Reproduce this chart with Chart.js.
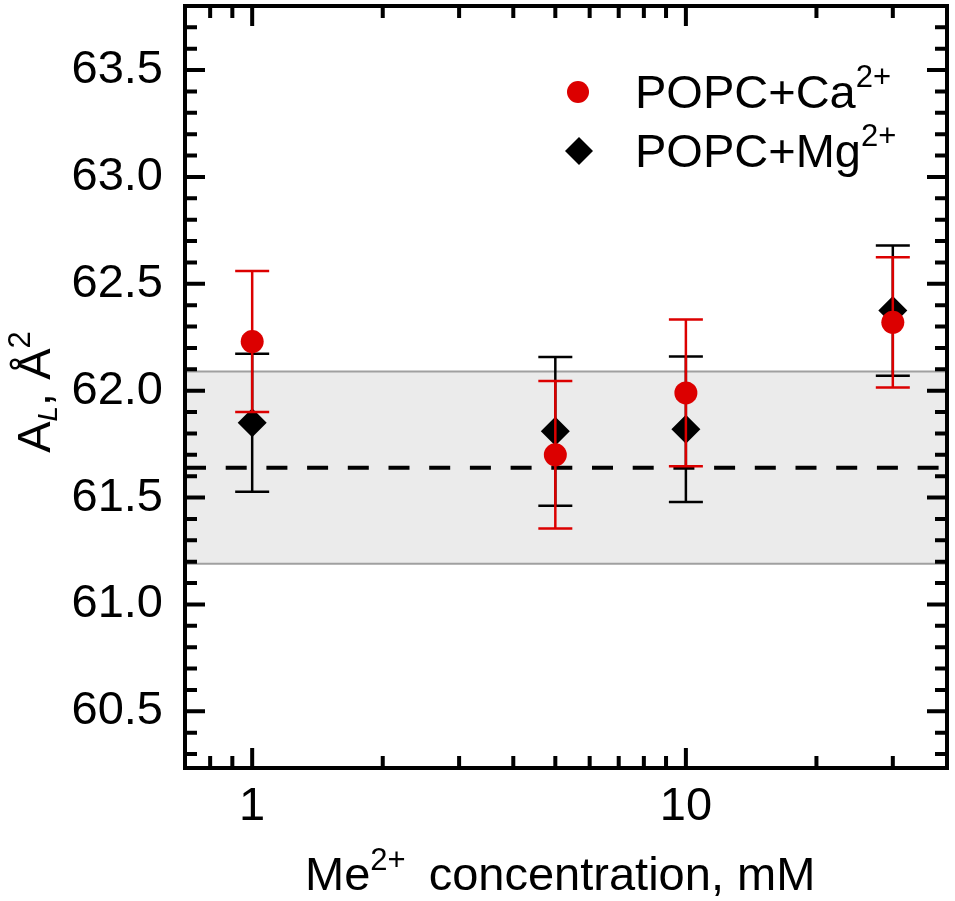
<html>
<head>
<style>
    body { margin: 0; background: #fff; }
    canvas { display: block; }
</style>
</head>
<body>
<canvas id="area_chart" width="955" height="901"></canvas>
<script src="https://cdn.jsdelivr.net/npm/chart.js"></script>

<script>
    // values
    const concentrations = [1, 5, 10, 30];
    const caArea = [62.23, 61.70, 61.99, 62.32];
    const caError = [0.33, 0.345, 0.343, 0.305];
    const mgArea = [61.85, 61.81, 61.82, 62.375];
    const mgError = [0.323, 0.348, 0.34, 0.305];
    const meanArea = 61.64;
    const bandLow = 61.19;
    const bandHigh = 62.09;

    const xRange = [0.7, 40];
    const yRange = [60.235, 63.8];
    const xMajorTicks = [1, 10];
    const xMinorTicks = [0.8, 0.9, 2, 3, 4, 5, 6, 7, 8, 9, 20, 30];
    const yMajorTicks = [60.5, 61.0, 61.5, 62.0, 62.5, 63.0, 63.5];
    const yMinorTicks = [60.3, 60.4, 60.6, 60.7, 60.8, 60.9, 61.1, 61.2, 61.3, 61.4,
        61.6, 61.7, 61.8, 61.9, 62.1, 62.2, 62.3, 62.4, 62.6, 62.7, 62.8, 62.9,
        63.1, 63.2, 63.3, 63.4, 63.6, 63.7];

    const FONT = '"Liberation Sans", Arial, sans-serif';
    const RED = "#dc0000";

    function drawRich(ctx, parts, x, y) {
        // parts: [text, size, dy, style, gapAfter]
        let cx = x;
        parts.forEach(([t, size, dy, style, gap]) => {
            ctx.font = (style || "") + " " + size + "px " + FONT;
            ctx.fillText(t, cx, y + dy);
            cx += ctx.measureText(t).width + (gap || 0);
        });
        return cx - x;
    }

    function richWidth(ctx, parts) {
        let w = 0;
        parts.forEach(([t, size, dy, style, gap]) => {
            ctx.font = (style || "") + " " + size + "px " + FONT;
            w += ctx.measureText(t).width + (gap || 0);
        });
        return w;
    }

    const errorBars = {
        id: "errorBars",
        beforeDatasetDraw(chart, args) {
            const ds = chart.data.datasets[args.index];
            if (!ds.errors) return;
            const ctx = chart.ctx;
            const xs = chart.scales.x, ys = chart.scales.y;
            ctx.save();
            ctx.strokeStyle = ds.errorColor;
            ctx.lineWidth = 2.5;
            ds.data.forEach((p, i) => {
                const px = xs.getPixelForValue(p.x);
                const top = ys.getPixelForValue(p.y + ds.errors[i]);
                const bot = ys.getPixelForValue(p.y - ds.errors[i]);
                ctx.beginPath();
                ctx.moveTo(px, top); ctx.lineTo(px, bot);
                ctx.moveTo(px - 17, top); ctx.lineTo(px + 17, top);
                ctx.moveTo(px - 17, bot); ctx.lineTo(px + 17, bot);
                ctx.stroke();
            });
            ctx.restore();
        }
    };

    const frameAndText = {
        id: "frameAndText",
        afterDatasetsDraw(chart) {
            const ctx = chart.ctx;
            const a = chart.chartArea;
            const xs = chart.scales.x, ys = chart.scales.y;
            ctx.save();
            ctx.strokeStyle = "#000";
            ctx.lineWidth = 4;
            ctx.beginPath();
            const tickX = (v, len) => {
                const px = xs.getPixelForValue(v);
                ctx.moveTo(px, a.bottom); ctx.lineTo(px, a.bottom - len);
                ctx.moveTo(px, a.top); ctx.lineTo(px, a.top + len);
            };
            const tickY = (v, len) => {
                const py = ys.getPixelForValue(v);
                ctx.moveTo(a.left, py); ctx.lineTo(a.left + len, py);
                ctx.moveTo(a.right, py); ctx.lineTo(a.right - len, py);
            };
            xMajorTicks.forEach(v => tickX(v, 20));
            xMinorTicks.forEach(v => tickX(v, 12));
            yMajorTicks.forEach(v => tickY(v, 20));
            yMinorTicks.forEach(v => tickY(v, 12));
            ctx.stroke();
            ctx.strokeRect(a.left, a.top, a.right - a.left, a.bottom - a.top);
            ctx.restore();
        },
        afterDraw(chart) {
            const ctx = chart.ctx;
            ctx.save();
            ctx.fillStyle = "#000";
            ctx.textBaseline = "alphabetic";
            ctx.textAlign = "left";

            // x axis title
            drawRich(ctx, [["Me", 47, 0], ["2+", 31, -20, "", 10], [" concentration, mM", 47, 0]], 305, 890);

            // y axis title
            const yTitle = [["A", 47, 0], ["L", 28, 7, "italic"], [", Å", 47, 0], ["2", 31, -20]];
            ctx.translate(50, 392);
            ctx.rotate(-Math.PI / 2);
            drawRich(ctx, yTitle, -richWidth(ctx, yTitle) / 2, 0);
            ctx.setTransform(1, 0, 0, 1, 0, 0);

            // legend
            ctx.fillStyle = RED;
            ctx.beginPath();
            ctx.arc(578, 92, 11, 0, Math.PI * 2);
            ctx.fill();
            ctx.fillStyle = "#000";
            ctx.beginPath();
            ctx.moveTo(579 - 14, 151); ctx.lineTo(579, 137);
            ctx.lineTo(579 + 14, 151); ctx.lineTo(579, 165);
            ctx.closePath();
            ctx.fill();
            drawRich(ctx, [["POPC+Ca", 47, 0], ["2+", 31, -21]], 635, 108);
            drawRich(ctx, [["POPC+Mg", 47, 0], ["2+", 31, -21]], 635, 167);
            ctx.restore();
        }
    };

    const toPoints = (xs, ys) => xs.map((x, i) => ({ x: x, y: ys[i] }));

    const ctx = document.getElementById("area_chart").getContext("2d");
    const chart = new Chart(ctx, {
        type: "scatter",
        data: {
            datasets: [{
                label: "POPC+Ca2+",
                data: toPoints(concentrations, caArea),
                errors: caError,
                errorColor: RED,
                pointStyle: "circle",
                pointRadius: 11.5,
                pointBackgroundColor: RED,
                pointBorderWidth: 0,
                clip: false
            }, {
                label: "POPC+Mg2+",
                data: toPoints(concentrations, mgArea),
                errors: mgError,
                errorColor: "#000",
                pointStyle: "rectRot",
                pointRadius: 14.5,
                pointBackgroundColor: "#000",
                pointBorderWidth: 0,
                clip: false
            }, {
                type: "line",
                label: "mean",
                data: toPoints(xRange, [meanArea, meanArea]),
                borderColor: "#000",
                borderWidth: 4,
                borderDash: [21, 19.7],
                pointRadius: 0,
                fill: false
            }, {
                type: "line",
                label: "band high",
                data: toPoints(xRange, [bandHigh, bandHigh]),
                borderColor: "#a0a0a0",
                borderWidth: 2,
                pointRadius: 0,
                fill: false
            }, {
                type: "line",
                label: "band low",
                data: toPoints(xRange, [bandLow, bandLow]),
                borderColor: "#a0a0a0",
                borderWidth: 2,
                pointRadius: 0,
                backgroundColor: "#ebebeb",
                fill: "-1"
            }]
        },
        options: {
            responsive: false,
            devicePixelRatio: 1,
            animation: false,
            layout: { autoPadding: false, padding: { top: 6, right: 8, left: 0, bottom: 0 } },
            plugins: {
                legend: { display: false },
                tooltip: { enabled: false }
            },
            scales: {
                x: {
                    type: "logarithmic",
                    min: xRange[0],
                    max: xRange[1],
                    grid: { display: false, drawTicks: false },
                    border: { display: false },
                    afterBuildTicks: (axis) => { axis.ticks = xMajorTicks.map(v => ({ value: v })); },
                    afterFit: (axis) => {
                        axis.height = 133;
                        axis.paddingLeft = 0;
                        axis.paddingRight = 0;
                    },
                    ticks: {
                        padding: 11,
                        color: "#000",
                        font: { family: FONT, size: 47, lineHeight: 1.2 },
                        callback: (v) => String(v)
                    }
                },
                y: {
                    min: yRange[0],
                    max: yRange[1],
                    grid: { display: false, drawTicks: false },
                    border: { display: false },
                    afterBuildTicks: (axis) => { axis.ticks = yMajorTicks.map(v => ({ value: v })); },
                    afterFit: (axis) => {
                        axis.width = 185;
                        axis.paddingTop = 0;
                        axis.paddingBottom = 0;
                    },
                    ticks: {
                        padding: 22,
                        color: "#000",
                        font: { family: FONT, size: 47 },
                        callback: (v) => Number(v).toFixed(1)
                    }
                }
            }
        },
        plugins: [errorBars, frameAndText]
    });
</script>
</body>
</html>
